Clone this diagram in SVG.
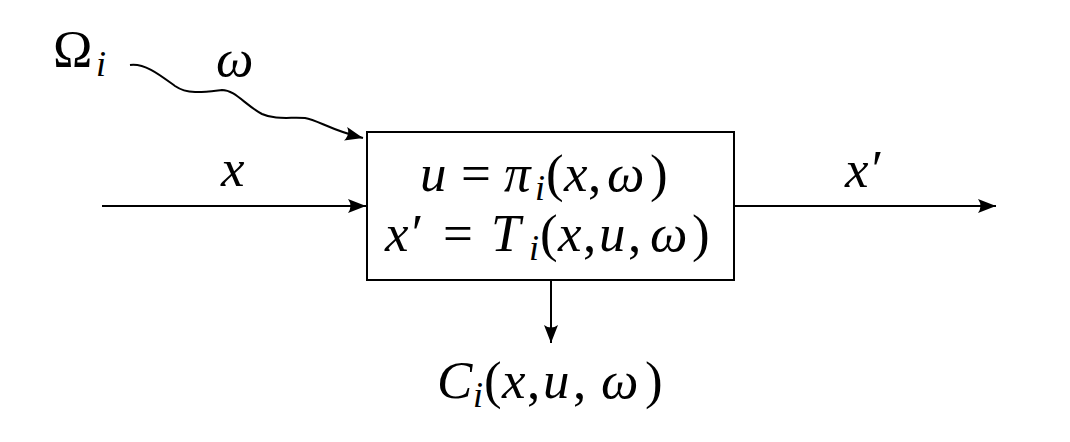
<svg xmlns="http://www.w3.org/2000/svg" width="1070" height="442" viewBox="0 0 1070 442">
<style>
text{font-family:"Liberation Serif","Times New Roman",serif;font-size:53px;fill:#000}
.i{font-style:italic}
.s{font-size:36px;font-style:italic}
.ln{stroke:#000;stroke-width:2;fill:none}
</style>
<defs>
<marker id="ah" markerWidth="20" markerHeight="16" refX="18" refY="7" orient="auto" markerUnits="userSpaceOnUse" viewBox="0 0 20 14">
<path d="M0,0 L18,7 L0,14 Q5,7 0,0 Z" fill="#000"/>
</marker>
</defs>
<rect width="1070" height="442" fill="#fff"/>
<g id="connectors">
<path class="ln" d="M102,206 L366,206" marker-end="url(#ah)"/>
<path class="ln" d="M734,206 L996,206" marker-end="url(#ah)"/>
<path class="ln" d="M551,281 L551,343" marker-end="url(#ah)"/>
<path class="ln" d="M130,65 C145,63 160,75 175,86 C188,95 205,92 222,90 C235,90 245,105 262,114 C275,120 290,117 305,118 C318,120 330,130 363,138" marker-end="url(#ah)"/>
</g>
<g id="omega-source">
<text x="53" y="67">Ω<tspan class="s" x="96" y="76">i</tspan></text>
</g>
<g id="label-omega">
<text class="i" x="216" y="76">ω</text>
</g>
<g id="label-x">
<text class="i" x="221" y="186">x</text>
</g>
<g id="label-xprime">
<text class="i" x="845" y="187">x′</text>
</g>
<g id="block">
<rect x="367" y="132" width="367" height="148" fill="#fff" stroke="#000" stroke-width="2"/>
<text y="191"><tspan class="i" x="420">u</tspan><tspan x="461">=</tspan><tspan class="i" x="504">π</tspan><tspan class="s" x="535" y="200">i</tspan><tspan x="546" y="191">(</tspan><tspan class="i" x="564">x</tspan><tspan x="588">,</tspan><tspan class="i" x="607">ω</tspan><tspan x="650">)</tspan></text>
<text y="251"><tspan class="i" x="385">x′</tspan><tspan x="443">=</tspan><tspan class="i" x="491">T</tspan><tspan class="s" x="529" y="260">i</tspan><tspan x="540" y="251">(</tspan><tspan class="i" x="558">x</tspan><tspan x="583">,</tspan><tspan class="i" x="599">u</tspan><tspan x="628">,</tspan><tspan class="i" x="650">ω</tspan><tspan x="692">)</tspan></text>
</g>
<g id="cost">
<text y="398"><tspan class="i" x="437">C</tspan><tspan class="s" x="473" y="407">i</tspan><tspan x="484" y="398">(</tspan><tspan class="i" x="502">x</tspan><tspan x="527">,</tspan><tspan class="i" x="543">u</tspan><tspan x="573">,</tspan><tspan class="i" x="601">ω</tspan><tspan x="645">)</tspan></text>
</g>
</svg>
